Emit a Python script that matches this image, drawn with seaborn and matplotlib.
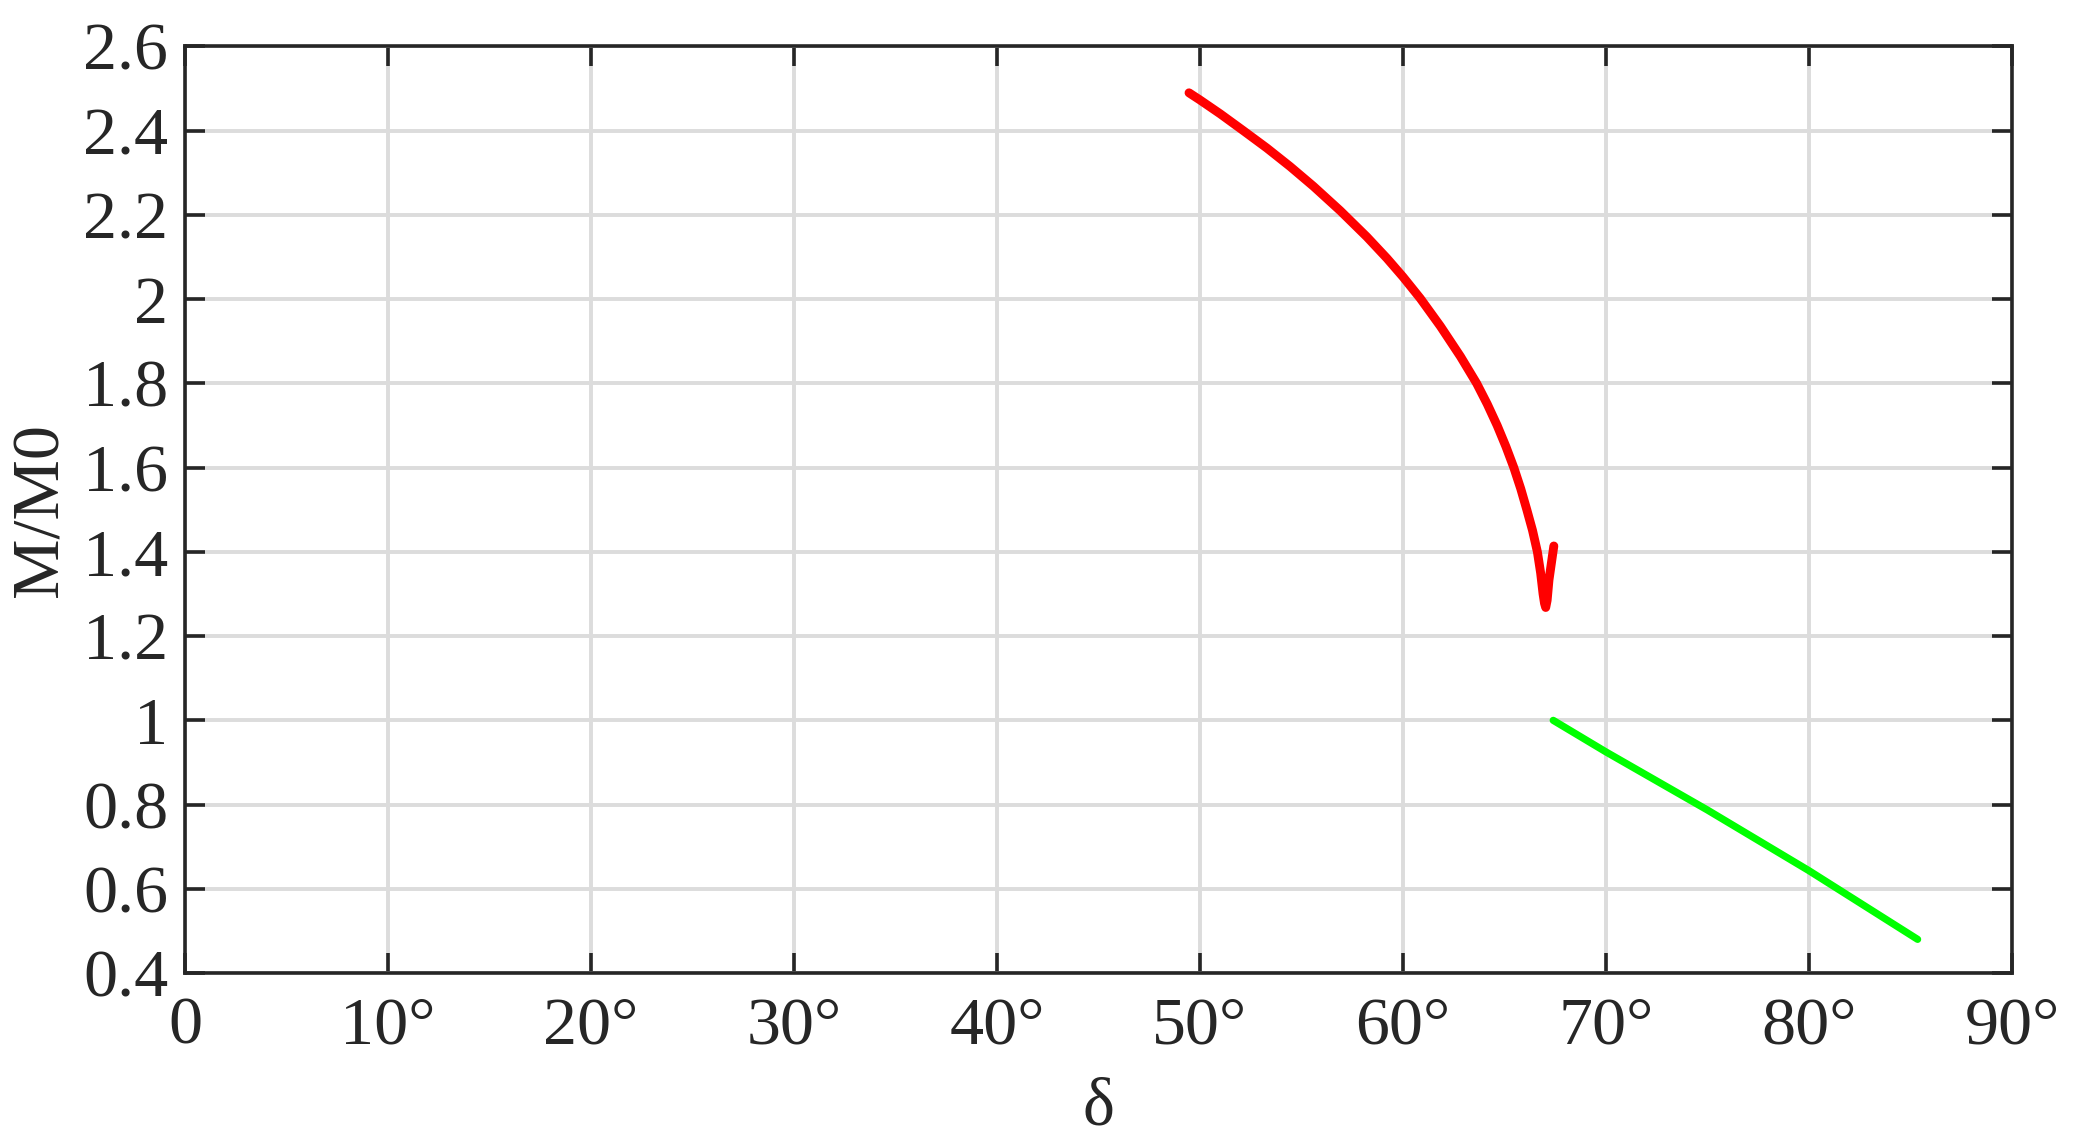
import numpy as np
import pandas as pd
import matplotlib
matplotlib.use('Agg')
import matplotlib.pyplot as plt
import seaborn as sns

# data
red_delta = [49.46, 50.0, 51.0, 52.14, 53.29, 54.44, 55.59, 56.91, 58.22, 59.21,
             60.0, 60.85, 61.84, 62.83, 63.63, 64.15, 64.64, 65.07, 65.46, 65.8,
             66.1, 66.38, 66.62, 66.78, 66.9, 66.97, 67.03, 67.1, 67.19, 67.43]
red_m = [2.490, 2.473, 2.440, 2.400, 2.359, 2.315, 2.268, 2.210, 2.148, 2.097,
         2.053, 2.002, 1.936, 1.864, 1.800, 1.751, 1.700, 1.650, 1.600, 1.550,
         1.500, 1.451, 1.400, 1.350, 1.300, 1.278, 1.268, 1.285, 1.333, 1.414]
green_delta = [67.4, 70.0, 75.0, 80.0, 85.35]
green_m = [1.0, 0.925, 0.787, 0.643, 0.48]

x_ticks = list(range(0, 91, 10))
x_labels = ['0'] + [f'{t}°' for t in x_ticks[1:]]
y_ticks = [0.4, 0.6, 0.8, 1.0, 1.2, 1.4, 1.6, 1.8, 2.0, 2.2, 2.4, 2.6]
y_labels = ['0.4', '0.6', '0.8', '1', '1.2', '1.4', '1.6', '1.8', '2', '2.2', '2.4', '2.6']

df_red = pd.DataFrame({'delta': red_delta, 'M': red_m})
df_green = pd.DataFrame({'delta': green_delta, 'M': green_m})

sns.set_theme(style="white")
plt.rcParams['font.family'] = ['Liberation Serif', 'DejaVu Serif']

dark = '#262626'
fig = plt.figure(figsize=(10.425, 5.74), dpi=200)
ax = fig.add_axes([0.0887, 0.1524, 0.8763, 0.8071])

sns.lineplot(data=df_red, x='delta', y='M', sort=False, estimator=None,
             color='#ff0000', linewidth=3.2, ax=ax, zorder=3)
sns.lineplot(data=df_green, x='delta', y='M', sort=False, estimator=None,
             color='#00ff00', linewidth=2.6, ax=ax, zorder=3)

ax.set_xlim(0, 90)
ax.set_ylim(0.4, 2.6)
ax.set_xticks(x_ticks)
ax.set_xticklabels(x_labels)
ax.set_yticks(y_ticks)
ax.set_yticklabels(y_labels)

ax.grid(True, color='#dcdcdc', linewidth=1.4, zorder=0)
ax.set_axisbelow(True)
for s in ax.spines.values():
    s.set_color(dark)
    s.set_linewidth(1.3)
    s.set_visible(True)
ax.tick_params(direction='in', length=7.2, width=1.3, color=dark,
               labelsize=24.5, labelcolor=dark, top=True, right=True,
               bottom=True, left=True)
ax.tick_params(axis='x', pad=8.5)
ax.tick_params(axis='y', pad=6)

ax.set_xlabel('δ', fontsize=24.5, color=dark, labelpad=7)
ax.set_ylabel('M/M0', fontsize=24.5, color=dark, labelpad=4)

fig.savefig('out.png', dpi=200, facecolor='white')
